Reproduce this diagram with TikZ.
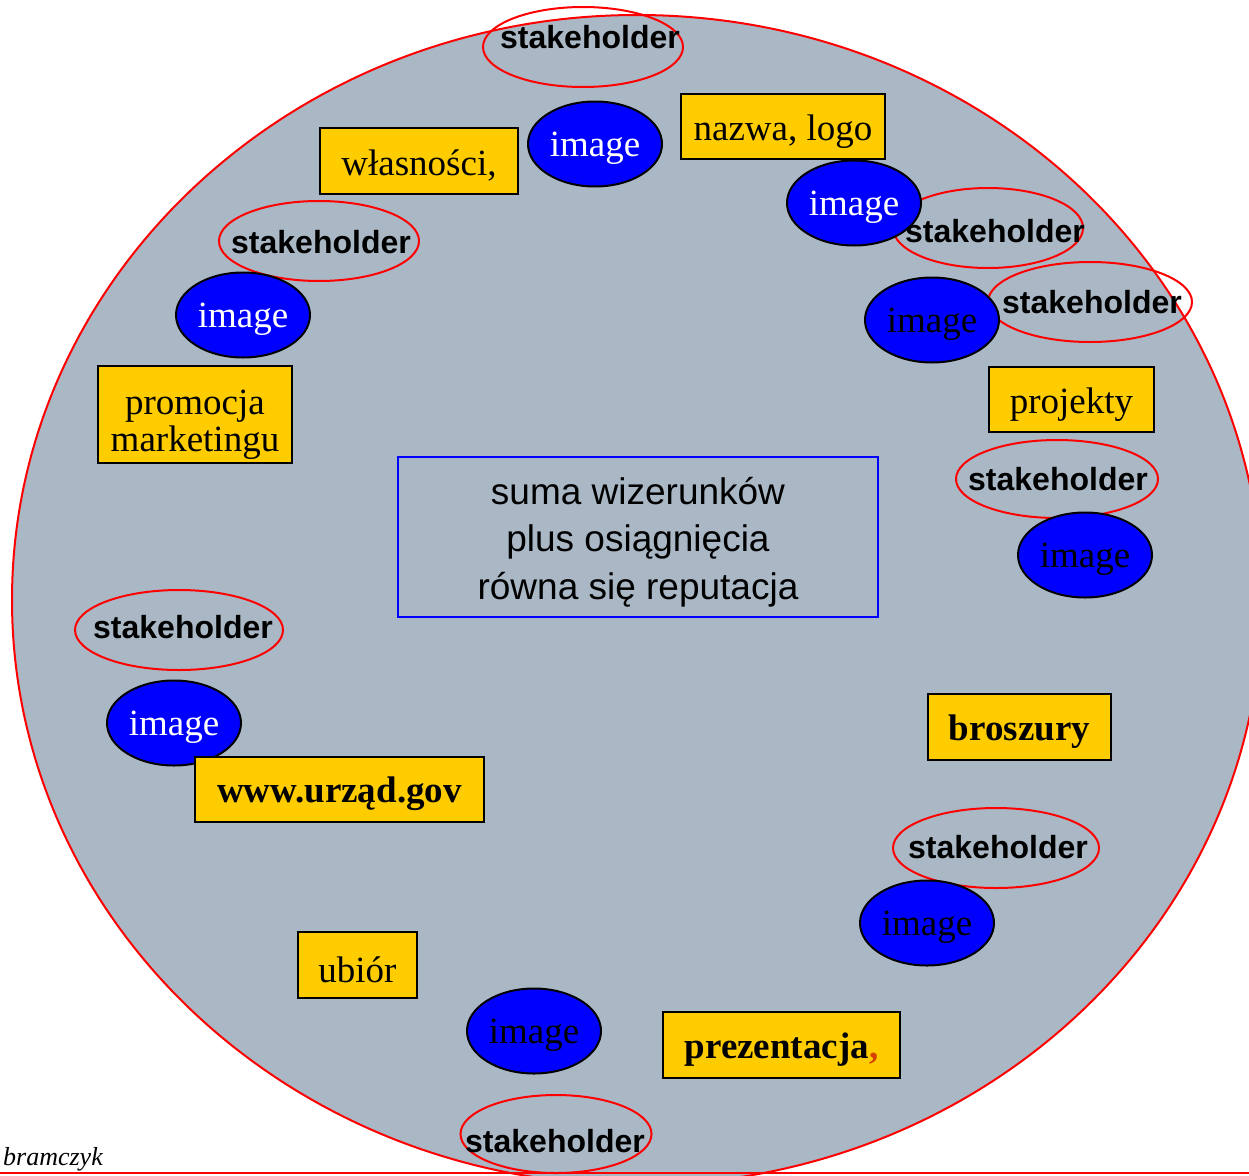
\documentclass[tikz,border=0pt]{standalone}
\usepackage{fontspec}
\setmainfont{Liberation Serif}
\newfontfamily\arialfont{Liberation Sans}
\usetikzlibrary{shapes.geometric}

\definecolor{discgray}{RGB}{170,184,198}
\definecolor{boxyellow}{RGB}{255,204,0}
\definecolor{ovalblue}{RGB}{0,0,255}
\definecolor{commared}{RGB}{214,64,0}

\begin{document}
\begin{tikzpicture}[x=1pt,y=-1pt,
  disc/.style={draw=red, line width=2pt, fill=discgray},
  stkring/.style={ellipse, draw=red, line width=2pt, inner sep=0pt,
    minimum width=200pt, minimum height=80pt},
  stktext/.style={font=\arialfont\bfseries\fontsize{32}{36}\selectfont,
    inner sep=0pt, text=black},
  imgoval/.style={ellipse, draw=black, line width=2pt, fill=ovalblue,
    inner sep=0pt, minimum width=134pt, minimum height=85pt,
    font=\fontsize{37}{40}\selectfont, text height=32pt, text depth=8pt},
  tagframe/.style={rectangle, draw=black, line width=2pt, fill=boxyellow,
    inner sep=4pt},
  tagbox/.style={tagframe, font=\fontsize{37}{37}\selectfont, text height=35pt},
  tagbold/.style={tagbox, font=\bfseries\fontsize{37}{37}\selectfont},
  tagtext/.style={inner sep=0pt, align=center, font=\fontsize{37}{37}\selectfont},
  centerbox/.style={rectangle, draw=ovalblue, line width=2pt,
    minimum width=480pt, minimum height=160pt, inner sep=0pt},
  centertext/.style={inner sep=0pt, align=center,
    font=\arialfont\fontsize{37}{47.5}\selectfont},
  signature/.style={font=\itshape\fontsize{26}{28}\selectfont, inner sep=0pt}
]
\useasboundingbox (0,0) rectangle (1249,1175);
\clip (0,0) rectangle (1249,1175);

% the large disc holding everything
\draw[disc] (637,600) ellipse [x radius=625pt, y radius=585pt];

% stakeholder rings
\node[stkring] (r1) at (583,47) {};
\node[stkring] (r2) at (319,241) {};
\node[stkring, minimum width=190pt] (r3) at (988,228) {};
\node[stkring, minimum width=204pt] (r4) at (1090,302) {};
\node[stkring, minimum width=202pt, minimum height=78pt] (r5) at (1057,479) {};
\node[stkring, minimum width=208pt] (r6) at (179,630) {};
\node[stkring, minimum width=206pt] (r7) at (996,848) {};
\node[stkring, minimum width=191pt, minimum height=78pt] (r8) at (556,1134) {};

% image ovals
\node[imgoval, text=white] (i1) at (595,144) {image};
\node[imgoval, text=white] (i2) at (854,203) {image};
\node[imgoval, text=white] (i3) at (243,315) {image};
\node[imgoval, text=black] (i4) at (932,320) {image};
\node[imgoval, text=black] (i5) at (1085,555) {image};
\node[imgoval, text=white] (i6) at (174,723) {image};
\node[imgoval, text=black] (i7) at (927,923) {image};
\node[imgoval, text=black] (i8) at (534,1031) {image};

% yellow tags
\node[tagbox, minimum width=198pt, minimum height=66pt] (b1) at (419,161) {własności,};
\node[tagbox, minimum width=204pt, minimum height=65pt] (b2) at (783,126.5) {nazwa, logo};
\node[tagframe, minimum width=194pt, minimum height=97pt,
  label={[tagtext, yshift=-10pt]center:promocja\\marketingu}] (b3) at (195,414.5) {};
\node[tagbox, minimum width=165pt, minimum height=65pt] (b4) at (1071.5,399.5) {projekty};
\node[tagbold, minimum width=183pt, minimum height=66pt] (b5) at (1019.5,727) {broszury};
\node[tagbold, minimum width=289pt, minimum height=65pt] (b6) at (339.5,789.5) {www.urząd.gov};
\node[tagbox, minimum width=119pt, minimum height=66pt] (b7) at (357.5,965) {ubiór};
\node[tagbold, minimum width=237pt, minimum height=66pt] (b8) at (781.5,1045) {prezentacja{\color{commared},}};

% central statement
\node[centerbox, label={[centertext, yshift=-5pt]center:suma wizerunków\\plus osiągnięcia\\równa się reputacja}] (sum) at (638,537) {};

% stakeholder labels
\node[stktext] (t1) at (590,37) {stakeholder};
\node[stktext] (t2) at (321,242) {stakeholder};
\node[stktext] (t3) at (995,231) {stakeholder};
\node[stktext] (t4) at (1092,302) {stakeholder};
\node[stktext] (t5) at (1058,479) {stakeholder};
\node[stktext] (t6) at (183,627) {stakeholder};
\node[stktext] (t7) at (998,847) {stakeholder};
\node[stktext] (t8) at (555,1141) {stakeholder};

% author signature and footer rule
\node[signature, anchor=base west] (sig) at (3,1165) {bramczyk};
\draw[red, line width=1.6pt] (0,1173) -- (1249,1173);
\end{tikzpicture}
\end{document}
